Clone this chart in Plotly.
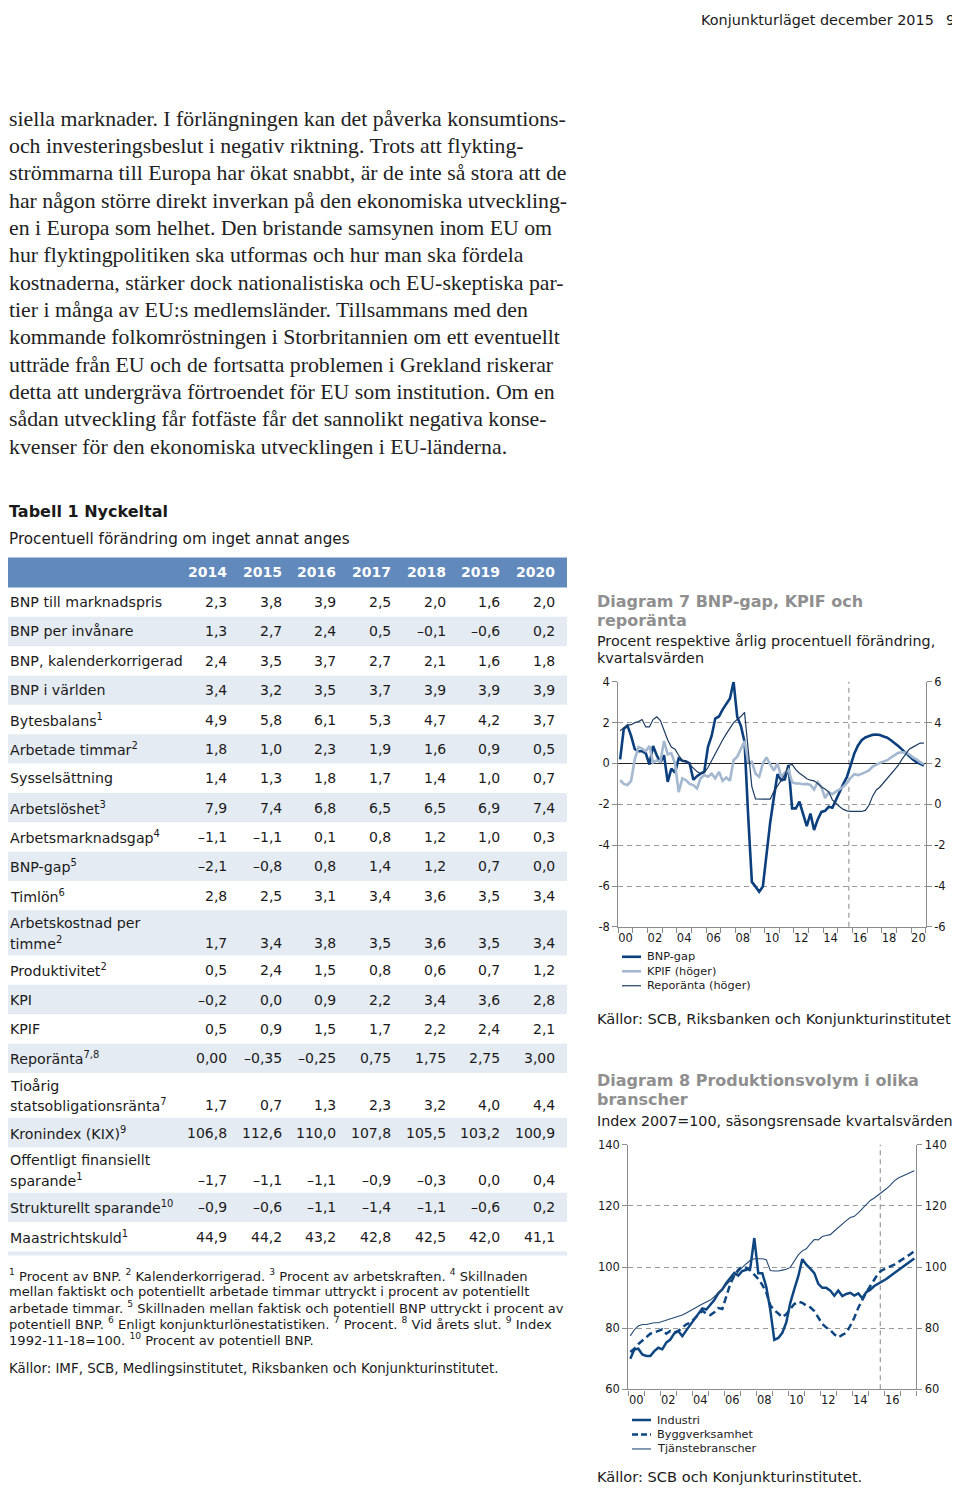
import plotly.graph_objects as go

# the page body has an 8px margin, so the figure sits at (8, 8)
OX, OY = 8, 8
FW, FH = 952, 1483


def Y(y):
    # small vertical stretch so rows and charts line up with the printed page
    return y + 0.0078 * (y - 600)


def px(x):
    return (x - OX) / FW


def py(y, adjust=True):
    return 1 - ((Y(y) if adjust else y) - OY) / FH


SANS = "DejaVu Sans"
SERIF = "Liberation Serif"
INK = "#1a1a1a"
GREY = "#8f8f8f"
LEFT = 8

# ---------------- data ----------------
page_header = "Konjunkturläget december 2015"
page_number = "9"

body_lines = [
    "siella marknader. I förlängningen kan det påverka konsumtions-",
    "och investeringsbeslut i negativ riktning. Trots att flykting-",
    "strömmarna till Europa har ökat snabbt, är de inte så stora att de",
    "har någon större direkt inverkan på den ekonomiska utveckling-",
    "en i Europa som helhet. Den bristande samsynen inom EU om",
    "hur flyktingpolitiken ska utformas och hur man ska fördela",
    "kostnaderna, stärker dock nationalistiska och EU-skeptiska par-",
    "tier i många av EU:s medlemsländer. Tillsammans med den",
    "kommande folkomröstningen i Storbritannien om ett eventuellt",
    "utträde från EU och de fortsatta problemen i Grekland riskerar",
    "detta att undergräva förtroendet för EU som institution. Om en",
    "sådan utveckling får fotfäste får det sannolikt negativa konse-",
    "kvenser för den ekonomiska utvecklingen i EU-länderna.",
]

table_title = "Tabell 1 Nyckeltal"
table_subtitle = "Procentuell förändring om inget annat anges"
table_years = ["2014", "2015", "2016", "2017", "2018", "2019", "2020"]
row_labels = [
    "BNP till marknadspris",
    "BNP per invånare",
    "BNP, kalenderkorrigerad",
    "BNP i världen",
    "Bytesbalans<sup>1</sup>",
    "Arbetade timmar<sup>2</sup>",
    "Sysselsättning",
    "Arbetslöshet<sup>3</sup>",
    "Arbetsmarknadsgap<sup>4</sup>",
    "BNP-gap<sup>5</sup>",
    "Timlön<sup>6</sup>",
    "Arbetskostnad per<br>timme<sup>2</sup>",
    "Produktivitet<sup>2</sup>",
    "KPI",
    "KPIF",
    "Reporänta<sup>7,8</sup>",
    "Tioårig<br>statsobligationsränta<sup>7</sup>",
    "Kronindex (KIX)<sup>9</sup>",
    "Offentligt finansiellt<br>sparande<sup>1</sup>",
    "Strukturellt sparande<sup>10</sup>",
    "Maastrichtskuld<sup>1</sup>",
]
v2014 = ["2,3", "1,3", "2,4", "3,4", "4,9", "1,8", "1,4", "7,9", "–1,1", "–2,1", "2,8",
         "1,7", "0,5", "–0,2", "0,5", "0,00", "1,7", "106,8", "–1,7", "–0,9", "44,9"]
v2015 = ["3,8", "2,7", "3,5", "3,2", "5,8", "1,0", "1,3", "7,4", "–1,1", "–0,8", "2,5",
         "3,4", "2,4", "0,0", "0,9", "–0,35", "0,7", "112,6", "–1,1", "–0,6", "44,2"]
v2016 = ["3,9", "2,4", "3,7", "3,5", "6,1", "2,3", "1,8", "6,8", "0,1", "0,8", "3,1",
         "3,8", "1,5", "0,9", "1,5", "–0,25", "1,3", "110,0", "–1,1", "–1,1", "43,2"]
v2017 = ["2,5", "0,5", "2,7", "3,7", "5,3", "1,9", "1,7", "6,5", "0,8", "1,4", "3,4",
         "3,5", "0,8", "2,2", "1,7", "0,75", "2,3", "107,8", "–0,9", "–1,4", "42,8"]
v2018 = ["2,0", "–0,1", "2,1", "3,9", "4,7", "1,6", "1,4", "6,5", "1,2", "1,2", "3,6",
         "3,6", "0,6", "3,4", "2,2", "1,75", "3,2", "105,5", "–0,3", "–1,1", "42,5"]
v2019 = ["1,6", "–0,6", "1,6", "3,9", "4,2", "0,9", "1,0", "6,9", "1,0", "0,7", "3,5",
         "3,5", "0,7", "3,6", "2,4", "2,75", "4,0", "103,2", "0,0", "–0,6", "42,0"]
v2020 = ["2,0", "0,2", "1,8", "3,9", "3,7", "0,5", "0,7", "7,4", "0,3", "0,0", "3,4",
         "3,4", "1,2", "2,8", "2,1", "3,00", "4,4", "100,9", "0,4", "0,2", "41,1"]
table_columns = [v2014, v2015, v2016, v2017, v2018, v2019, v2020]

footnotes = [
    "<sup>1</sup> Procent av BNP. <sup>2</sup> Kalenderkorrigerad. <sup>3</sup> Procent av arbetskraften. <sup>4</sup> Skillnaden",
    "mellan faktiskt och potentiellt arbetade timmar uttryckt i procent av potentiellt",
    "arbetade timmar. <sup>5</sup> Skillnaden mellan faktisk och potentiell BNP uttryckt i procent av",
    "potentiell BNP. <sup>6</sup> Enligt konjunkturlönestatistiken. <sup>7</sup> Procent. <sup>8</sup> Vid årets slut. <sup>9</sup> Index",
    "1992-11-18=100. <sup>10</sup> Procent av potentiell BNP.",
]
table_source = "Källor: IMF, SCB, Medlingsinstitutet, Riksbanken och Konjunkturinstitutet."

# Diagram 7: quarterly 2000Q1-2020Q4
d7_title = ["Diagram 7 BNP-gap, KPIF och", "reporänta"]
d7_subtitle = ["Procent respektive årlig procentuell förändring,", "kvartalsvärden"]
d7_source = "Källor: SCB, Riksbanken och Konjunkturinstitutet."
d7_first_year, d7_last_year = 2000, 2020
bnp_gap = [
    0.2, 1.7, 1.85, 1.35, 0.7, 0.6, 0.6, 0.5, -0.05, 0.85, 0.4, 0.05,
    0.4, -0.9, -0.25, -0.45, 0.25, 0.13, 0.1, 0.0, -0.8, -0.62, -0.5, -0.4,
    0.82, 1.35, 2.2, 2.3, 2.64, 2.9, 3.18, 4.0, 2.28, 1.84, 1.06, -2.6,
    -5.8, -6.03, -6.28, -6.03, -4.3, -2.9, -1.68, -0.52, -0.82, -0.78, -0.08, -2.2,
    -2.2, -1.87, -2.48, -3.07, -2.45, -3.26, -2.74, -2.37, -2.32, -2.12, -2.17, -1.76,
    -1.35, -1.0, -0.65, -0.1, 0.49, 0.88, 1.14, 1.27, 1.35, 1.4, 1.42, 1.39,
    1.32, 1.26, 1.14, 1.01, 0.85, 0.69, 0.52, 0.36, 0.2, 0.07, -0.03, -0.1,
]
kpif = [
    1.18, 1.0, 0.94, 1.15, 2.2, 2.8, 2.72, 2.6, 2.85, 2.05, 2.15, 2.08,
    3.1, 2.45, 2.5, 2.0, 0.6, 1.27, 1.18, 1.0, 0.94, 0.78, 1.27, 1.43,
    1.35, 1.5, 1.27, 1.59, 1.15, 1.31, 1.15, 2.16, 2.33, 2.73, 3.1, 2.08,
    2.08, 1.5, 1.35, 2.0, 2.3, 1.95, 1.65, 2.0, 1.35, 1.55, 1.7, 1.08,
    1.02, 1.02, 0.98, 1.0, 0.95, 0.72, 1.08, 0.85, 0.3, 0.6, 0.5, 0.62,
    0.75, 0.86, 1.05, 1.3, 1.47, 1.43, 1.49, 1.58, 1.66, 1.85, 1.95, 2.03,
    2.1, 2.16, 2.29, 2.42, 2.52, 2.55, 2.54, 2.45, 2.3, 2.2, 2.06, 1.97,
]
reporanta = [
    3.6, 3.75, 3.88, 3.9, 4.0, 4.05, 4.15, 3.79, 3.79, 4.15, 4.28, 4.1,
    3.6, 3.15, 2.8, 2.7, 2.4, 2.15, 2.12, 1.95, 1.75, 1.6, 1.5, 1.55,
    1.8, 2.15, 2.5, 2.85, 3.15, 3.45, 3.75, 4.0, 4.15, 4.3, 4.5, 2.8,
    0.85, 0.27, 0.25, 0.25, 0.25, 0.25, 0.62, 0.9, 1.15, 1.45, 1.9, 1.95,
    1.7, 1.52, 1.4, 1.25, 1.18, 1.15, 1.02, 0.85, 0.75, 0.6, 0.22, 0.03,
    -0.12, -0.25, -0.32, -0.35, -0.35, -0.35, -0.35, -0.3, -0.05, 0.4, 0.7, 0.85,
    1.05, 1.3, 1.5, 1.7, 1.9, 2.2, 2.45, 2.7, 2.8, 2.9, 3.0, 3.0,
]

# Diagram 8: quarterly 2000Q1-2017Q4
d8_title = ["Diagram 8 Produktionsvolym i olika", "branscher"]
d8_subtitle = ["Index 2007=100, säsongsrensade kvartalsvärden"]
d8_source = "Källor: SCB och Konjunkturinstitutet."
d8_first_year, d8_last_year = 2000, 2017
industri = [
    70.0, 73.0, 73.3, 71.4, 70.9, 70.9, 72.5, 73.6, 73.1, 75.3, 76.3, 78.3,
    79.1, 77.4, 79.3, 81.2, 83.0, 85.0, 86.5, 86.1, 87.5, 89.2, 91.4, 92.7,
    94.8, 96.5, 98.1, 97.2, 98.7, 99.1, 99.7, 109.5, 98.0, 98.0, 93.5, 86.0,
    76.2, 76.8, 78.5, 81.9, 88.3, 92.8, 97.0, 102.6, 100.8, 99.5, 98.0, 94.5,
    93.2, 93.2, 92.3, 90.6, 92.3, 90.5, 91.2, 91.6, 90.7, 91.4, 89.8, 91.8,
    92.6, 93.8, 94.5, 95.2, 96.1, 97.1, 98.1, 99.1, 100.0, 101.0, 102.0, 102.8,
]
byggverksamhet = [
    72.2, 73.3, 74.8, 76.0, 77.3, 78.2, 78.6, 79.0, 79.6, 78.2, 79.1, 78.6,
    79.1, 80.2, 81.3, 81.8, 83.0, 84.4, 85.7, 84.8, 84.3, 85.2, 86.6, 86.3,
    90.7, 94.5, 97.2, 99.1, 100.1, 99.8, 98.9, 97.5, 96.1, 94.2, 91.7, 87.5,
    85.9, 84.8, 83.6, 84.6, 86.4, 87.9, 88.7, 88.3, 87.4, 86.8, 85.6, 83.7,
    81.4, 80.2, 79.4, 78.0, 77.0, 77.8, 78.5, 80.8, 83.4, 86.7, 89.4, 91.7,
    93.8, 95.7, 98.0, 99.0, 99.5, 100.2, 100.8, 101.6, 102.5, 103.3, 104.2, 105.2,
]
tjanstebranscher = [
    77.5, 79.5, 80.7, 81.2, 81.2, 81.5, 81.8, 81.8, 82.2, 82.7, 83.1, 83.4,
    83.9, 84.3, 85.0, 85.8, 86.5, 87.2, 87.9, 88.5, 89.2, 90.3, 91.5, 92.8,
    94.2, 95.6, 97.1, 98.5, 99.9, 101.1, 102.2, 102.7, 102.7, 102.7, 102.4, 98.9,
    98.7, 98.7, 99.0, 99.3, 99.9, 101.8, 104.0, 105.3, 106.0, 107.6, 109.0, 108.9,
    110.0, 110.3, 110.6, 111.8, 113.0, 114.0, 115.2, 116.2, 116.6, 117.7, 119.0, 120.6,
    121.8, 122.6, 123.5, 124.4, 125.6, 126.8, 128.2, 129.1, 129.7, 130.5, 131.0, 131.5,
]
forecast_start = 2015.75


def quarter_axis(first, last):
    return [y + (q - 0.5) / 4 for y in range(first, last + 1) for q in range(1, 5)]


q7 = quarter_axis(d7_first_year, d7_last_year)
q8 = quarter_axis(d8_first_year, d8_last_year)

fig = go.Figure()

# ---------------- chart traces ----------------
s_bnp = dict(color="#0b3f7e", width=2.6)
s_kpif = dict(color="#a4b8d0", width=2.6)
s_repo = dict(color="#1d3b60", width=1.2)
s_ind = dict(color="#0e4682", width=2.5)
s_bygg = dict(color="#0e4682", width=2.5, dash="7px,4px")
s_tj = dict(color="#264a74", width=1.1)

fig.add_trace(go.Scatter(x=q7, y=kpif, mode="lines", name="KPIF (höger)",
                         line=s_kpif, xaxis="x", yaxis="y2"))
fig.add_trace(go.Scatter(x=q7, y=reporanta, mode="lines", name="Reporänta (höger)",
                         line=s_repo, xaxis="x", yaxis="y2"))
fig.add_trace(go.Scatter(x=q7, y=bnp_gap, mode="lines", name="BNP-gap",
                         line=s_bnp, xaxis="x", yaxis="y"))

fig.add_trace(go.Scatter(x=q8, y=tjanstebranscher, mode="lines", name="Tjänstebranscher",
                         line=s_tj, xaxis="x2", yaxis="y4"))
fig.add_trace(go.Scatter(x=q8, y=byggverksamhet, mode="lines", name="Byggverksamhet",
                         line=s_bygg, xaxis="x2", yaxis="y3"))
fig.add_trace(go.Scatter(x=q8, y=industri, mode="lines", name="Industri",
                         line=s_ind, xaxis="x2", yaxis="y3"))

# ---------------- axes ----------------
AXC = "#8c8c8c"
tickfont = dict(family=SANS, size=11.5, color=INK)


def x_axis(domain, first, last, anchor):
    return dict(domain=domain, range=[first, last + 1], anchor=anchor,
                tickmode="array",
                tickvals=[y + 0.5 for y in range(first, last + 1, 2)],
                ticktext=[f"{y % 100:02d}" for y in range(first, last + 1, 2)],
                ticks="", showgrid=False, zeroline=False,
                showline=True, linecolor=AXC, linewidth=1.3,
                minor=dict(tickmode="array", tickvals=list(range(first, last + 2)),
                           ticks="outside", ticklen=5, tickcolor=AXC, showgrid=False),
                tickfont=tickfont, fixedrange=True)


def y_axis(domain, lo, hi, step, side, anchor, grid, overlaying=None):
    vals = list(range(lo, hi + 1, step))
    ax = dict(domain=domain, range=[lo, hi], side=side, anchor=anchor,
              tickmode="array", tickvals=vals, ticktext=[str(v) for v in vals],
              ticks="outside", ticklen=5, tickcolor=AXC,
              showline=True, linecolor=AXC, linewidth=1.3,
              showgrid=grid, gridcolor="#9a9a9a", griddash="5px,4px", gridwidth=1,
              zeroline=False, tickfont=tickfont, fixedrange=True)
    if overlaying:
        ax["overlaying"] = overlaying
    return ax


d7_dom_y = [py(926), py(680.5)]
d8_dom_y = [py(1389.3), py(1144.3)]
yax1 = y_axis(d7_dom_y, -8, 4, 2, "left", "x", True)
yax1.update(zeroline=True, zerolinecolor="#222222", zerolinewidth=1.2)

fig.update_layout(
    xaxis=x_axis([px(618.3), px(925.7)], d7_first_year, d7_last_year, "y"),
    yaxis=yax1,
    yaxis2=y_axis(d7_dom_y, -6, 6, 2, "right", "x", False, overlaying="y"),
    xaxis2=x_axis([px(628.3), px(916.3)], d8_first_year, d8_last_year, "y3"),
    yaxis3=y_axis(d8_dom_y, 60, 140, 20, "left", "x2", True),
    yaxis4=y_axis(d8_dom_y, 60, 140, 20, "right", "x2", False, overlaying="y3"),
)

for xr, yr in (("x", "y domain"), ("x2", "y3 domain")):
    fig.add_shape(type="line", xref=xr, yref=yr, x0=forecast_start, x1=forecast_start,
                  y0=0, y1=1, line=dict(color="#9a9a9a", width=1.2, dash="5px,4px"),
                  layer="below")

# ---------------- text helpers ----------------


def text(x, y, s, size, color=INK, family=SANS, xanchor="left", adjust=True):
    fig.add_annotation(x=px(x), y=py(y, adjust), xref="paper", yref="paper", text=s,
                       showarrow=False, xanchor=xanchor, yanchor="middle",
                       font=dict(family=family, size=size, color=color), borderpad=0)


def rect(x0, x1, y0, y1, color):
    fig.add_shape(type="rect", xref="paper", yref="paper", x0=px(x0), x1=px(x1),
                  y0=py(y0), y1=py(y1), fillcolor=color, line_width=0, layer="below")


text(935, 13, page_header, 14.4, xanchor="right", adjust=False)
text(956, 13, page_number, 14.4, xanchor="right", adjust=False)

for i, line in enumerate(body_lines):
    text(LEFT, 112.5 + i * 27.6, line, 21.8, color="#222222", family=SERIF, adjust=False)

# ---------------- table ----------------
text(LEFT, 510, f"<b>{table_title}</b>", 16)
text(LEFT, 537, table_subtitle, 15.2)

col_right = [228 + 54.65 * i for i in range(len(table_years))]
rect(LEFT, 567, 556, 586, "#6189bc")
for xr, yr in zip(col_right, table_years):
    text(xr, 571, f"<b>{yr}</b>", 14, color="white", xanchor="right")

top = 586
for i, label in enumerate(row_labels):
    parts = label.split("<br>")
    h = 29.4 if len(parts) == 1 else 45.3
    if i % 2 == 1:
        rect(LEFT, 567, top, top + h, "#e5ebf3")
    if len(parts) == 1:
        text(LEFT + 1, top + h / 2, parts[0], 14.2)
        vy = top + h / 2
    else:
        text(LEFT + 1, top + h / 2 - 10, parts[0], 14.2)
        text(LEFT + 1, top + h / 2 + 10, parts[1], 14.2)
        vy = top + h / 2 + 10
    for xr, col in zip(col_right, table_columns):
        text(xr, vy, col[i], 14, xanchor="right")
    top += h
rect(LEFT, 567, top, top + 4, "#e5ebf3")

for i, line in enumerate(footnotes):
    text(LEFT, 1275 + i * 16, line, 13.1)
text(LEFT, 1368, table_source, 13.4)

# ---------------- chart titles and sources ----------------
for i, line in enumerate(d7_title):
    text(596, 600 + i * 19, f"<b>{line}</b>", 16, color=GREY)
for i, line in enumerate(d7_subtitle):
    text(596, 640 + i * 16.5, line, 14.3)
text(596, 1018, d7_source, 14.6)

for i, line in enumerate(d8_title):
    text(596, 1080 + i * 18.5, f"<b>{line}</b>", 16, color=GREY)
for i, line in enumerate(d8_subtitle):
    text(596, 1120 + i * 16.5, line, 14.3)
text(596, 1483, d8_source, 14.6, adjust=False)

# ---------------- legends (drawn by hand for compact spacing) ----------------


def legend(x, y, entries):
    for i, (name, style) in enumerate(entries):
        yy = y + i * 14.5
        ln = dict(color=style["color"], width=style["width"])
        if "dash" in style:
            ln["dash"] = "6px,3px"
        fig.add_shape(type="line", xref="paper", yref="paper", x0=px(x), x1=px(x + 19),
                      y0=py(yy), y1=py(yy), line=ln)
        text(x + 24, yy, name, 11.3)


legend(622, 956, [("BNP-gap", s_bnp), ("KPIF (höger)", s_kpif), ("Reporänta (höger)", s_repo)])
legend(632, 1420, [("Industri", s_ind), ("Byggverksamhet", s_bygg), ("Tjänstebranscher", s_tj)])

fig.update_layout(
    width=FW, height=FH, margin=dict(l=0, r=0, t=0, b=0),
    paper_bgcolor="white", plot_bgcolor="rgba(0,0,0,0)",
    showlegend=False,
)

fig.write_html("out.html")
